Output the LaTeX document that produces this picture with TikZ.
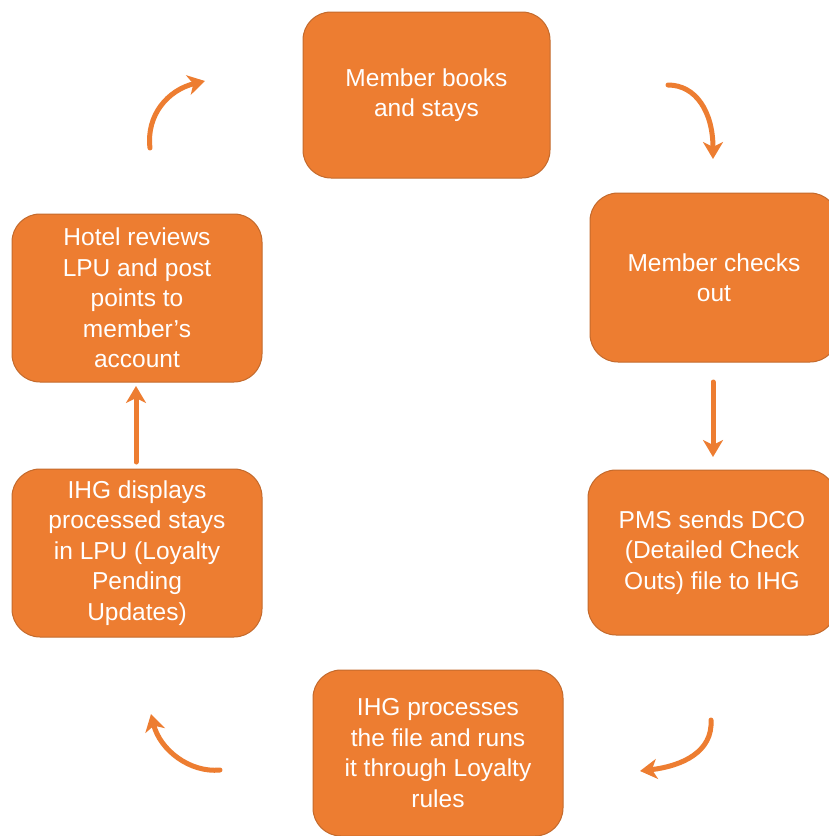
\documentclass[tikz,border=0pt]{standalone}
\usepackage{fontspec}
\setmainfont{Liberation Sans}
\usetikzlibrary{arrows.meta}
\definecolor{boxfill}{HTML}{ED7D31}
\definecolor{boxline}{HTML}{C46A2C}
\definecolor{arrcol}{HTML}{ED7D31}
\begin{document}
\begin{tikzpicture}[x=1pt,y=-1pt,
  stepbox/.style={draw=boxline, line width=1pt, fill=boxfill, rounded corners=28pt,
    text=white, align=center, inner sep=0pt,
    font=\fontsize{24.5}{30.5}\selectfont},
  flowarrow/.style={draw=arrcol, line width=5pt, line cap=round,
    -{Stealth[length=17pt,width=20pt,inset=5pt]}}]
\useasboundingbox (0,0) rectangle (828,836);
\fill[white] (0,0) rectangle (828,836);
% boxes
\node[stepbox, minimum width=247pt, minimum height=166pt] (b1) at (426.5,95) {Member books\\and stays};
\node[stepbox, minimum width=248pt, minimum height=169pt] (b2) at (714,277.5) {Member checks\\out};
\node[stepbox, minimum width=248pt, minimum height=165pt] (b3) at (712,552.5) {PMS sends DCO\\(Detailed Check\\Outs) file to IHG};
\node[stepbox, minimum width=250pt, minimum height=166pt] (b4) at (438,753) {IHG processes\\the file and runs\\it through Loyalty\\rules};
\node[stepbox, minimum width=250pt, minimum height=168pt] (b5) at (137,553) {IHG displays\\processed stays\\in LPU (Loyalty\\Pending\\Updates)};
\node[stepbox, minimum width=250pt, minimum height=168pt] (b6) at (137,298) {Hotel reviews\\LPU and post\\points to\\member's\\account};
% arrow end points
\coordinate (a1s) at (150,148); \coordinate (a1e) at (205,81);
\coordinate (a2s) at (668,85);  \coordinate (a2e) at (713,159);
\coordinate (a3s) at (713,382); \coordinate (a3e) at (713,457);
\coordinate (a4s) at (711,720); \coordinate (a4e) at (640,771);
\coordinate (a5s) at (220,770); \coordinate (a5e) at (151,714);
\coordinate (a6s) at (136,462); \coordinate (a6e) at (136,386);
% arrows
\draw[flowarrow] (a1s) .. controls (146,115) and (168,90) .. (a1e);
\draw[flowarrow] (a2s) .. controls (696,85) and (713,112) .. (a2e);
\draw[flowarrow] (a3s) -- (a3e);
\draw[flowarrow] (a4s) .. controls (713,752) and (682,766) .. (a4e);
\draw[flowarrow] (a5s) .. controls (190,773) and (160,750) .. (a5e);
\draw[flowarrow] (a6s) -- (a6e);
\end{tikzpicture}
\end{document}
